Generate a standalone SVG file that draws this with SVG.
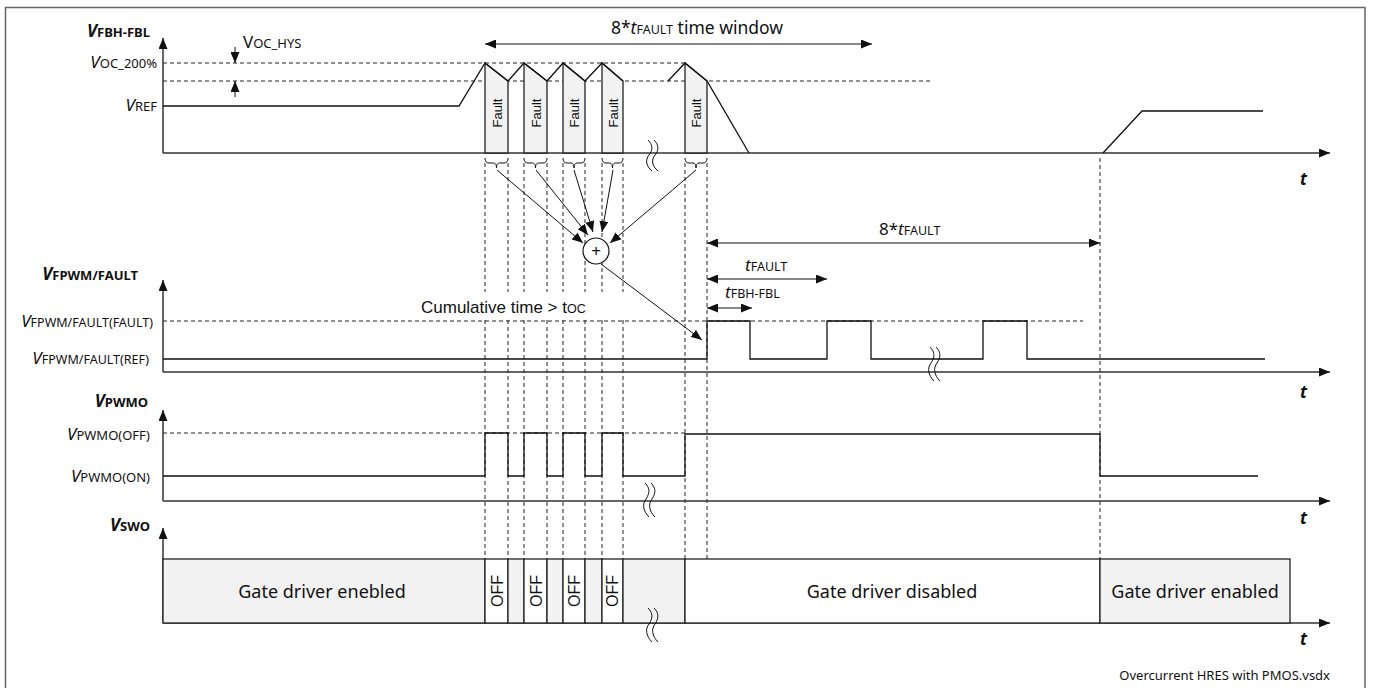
<svg xmlns="http://www.w3.org/2000/svg" width="1373" height="688" viewBox="0 0 1373 688">
<style>
text{font-family:"Noto Sans","Liberation Sans",sans-serif;fill:#111}
.lab{font-size:13px}
.V{font-size:17px;font-style:italic}
.b{font-weight:bold}
.ax{stroke:#333;stroke-width:1.5;fill:none}
.sig{stroke:#111;stroke-width:1.3;fill:none}
.dash{stroke:#222;stroke-width:1;fill:none;stroke-dasharray:4 3}
.thin{stroke:#111;stroke-width:1;fill:none}
.gray{fill:#f2f2f2;stroke:#222;stroke-width:1.3}
.white{fill:#fff;stroke:#222;stroke-width:1.3}
.arial{font-family:"Liberation Sans",Arial,sans-serif}
.sq{stroke:#111;stroke-width:1;fill:none}
</style>
<defs>
<marker id="ah" markerUnits="userSpaceOnUse" markerWidth="11" markerHeight="9" refX="11" refY="4.5" orient="auto-start-reverse"><path d="M0,0 L11,4.5 L0,9 z" fill="#111"/></marker>
</defs>
<rect x="5.5" y="7.5" width="1359.5" height="690" fill="none" stroke="#666" stroke-width="1.5"/>

<g id="connectors">
<path class="ax" d="M163,153 V38" marker-end="url(#ah)"/>
<path class="ax" d="M163,153 H1330" marker-end="url(#ah)"/>
<path class="ax" d="M163,372 V280" marker-end="url(#ah)"/>
<path class="ax" d="M163,372 H1330" marker-end="url(#ah)"/>
<path class="ax" d="M163,501 V410" marker-end="url(#ah)"/>
<path class="ax" d="M163,501 H1330" marker-end="url(#ah)"/>
<path class="ax" d="M163,623 V528" marker-end="url(#ah)"/>
<path class="ax" d="M163,623 H1330" marker-end="url(#ah)"/>
<path class="dash" d="M163,63 H685 M163,81 H932 M163,321 H1083 M163,433 H685"/>
<path class="dash" d="M485,163 V292 M485,320 V559 M508,163 V292 M508,320 V559 M524,163 V292 M524,320 V559 M547,163 V292 M547,320 V559 M563,163 V292 M563,320 V559 M585,163 V292 M585,320 V559 M602,163 V292 M602,320 V559 M623,163 V292 M623,320 V559 M685,163 V559 M707,163 V559 M1100,158 V559"/>
<path class="thin" d="M485,44 H872" marker-start="url(#ah)" marker-end="url(#ah)"/>
<path class="thin" d="M235,47 V63" marker-end="url(#ah)"/>
<path class="thin" d="M235,97 V81" marker-end="url(#ah)"/>
<path class="thin" d="M707,243 H1100" marker-start="url(#ah)" marker-end="url(#ah)"/>
<path class="thin" d="M707,279 H827" marker-start="url(#ah)" marker-end="url(#ah)"/>
<path class="thin" d="M707,308 H752" marker-start="url(#ah)" marker-end="url(#ah)"/>
<path class="thin" d="M497,170 L583,243" marker-end="url(#ah)"/>
<path class="thin" d="M536,170 L588,235" marker-end="url(#ah)"/>
<path class="thin" d="M574,170 L593,232" marker-end="url(#ah)"/>
<path class="thin" d="M613,170 L602,232" marker-end="url(#ah)"/>
<path class="thin" d="M696,170 L610,243" marker-end="url(#ah)"/>
<path class="thin" d="M601,264 L702,340" marker-end="url(#ah)"/>
<path class="thin" d="M485,158 q0,5 4,5 h4.5 q3,0 3,5 q0,-5 3,-5 h4.5 q4,0 4,-5"/>
<path class="thin" d="M524,158 q0,5 4,5 h4.5 q3,0 3,5 q0,-5 3,-5 h4.5 q4,0 4,-5"/>
<path class="thin" d="M563,158 q0,5 4,5 h4 q3,0 3,5 q0,-5 3,-5 h4 q4,0 4,-5"/>
<path class="thin" d="M602,158 q0,5 4,5 h3.5 q3,0 3,5 q0,-5 3,-5 h3.5 q4,0 4,-5"/>
<path class="thin" d="M685,158 q0,5 4,5 h4 q3,0 3,5 q0,-5 3,-5 h4 q4,0 4,-5"/>
</g>

<g id="signal-fbh-fbl">
<polygon class="gray" points="485,63 508,81 508,153 485,153"/>
<polygon class="gray" points="524,63 547,81 547,153 524,153"/>
<polygon class="gray" points="563,63 585,81 585,153 563,153"/>
<polygon class="gray" points="602,63 623,81 623,153 602,153"/>
<polygon class="gray" points="685,63 707,81 707,153 685,153"/>
<path class="sig" d="M163,106 H459 L485,63 L508,81 L524,63 L547,81 L563,63 L585,81 L602,63 L623,81 M668,81 L685,63 L707,81 L749,153 M1103,153 L1142,111 H1263"/>
<g font-size="13">
<text transform="translate(501.5,113) rotate(-90)" text-anchor="middle" class="arial">Fault</text>
<text transform="translate(540.5,113) rotate(-90)" text-anchor="middle" class="arial">Fault</text>
<text transform="translate(578.5,113) rotate(-90)" text-anchor="middle" class="arial">Fault</text>
<text transform="translate(617.5,113) rotate(-90)" text-anchor="middle" class="arial">Fault</text>
<text transform="translate(700.5,113) rotate(-90)" text-anchor="middle" class="arial">Fault</text>
</g>
<path class="sq" d="M648,140 c5,5 5,10 1,15 c-4,5 -3,11 3,16 M654,140 c5,5 5,10 1,15 c-4,5 -3,11 3,16"/>
</g>

<g id="sum-node">
<circle cx="596" cy="251" r="13" fill="#fff" stroke="#111" stroke-width="1.2"/>
<text x="596" y="257" font-size="17" text-anchor="middle">+</text>
</g>

<g id="signal-fpwm">
<path class="sig" d="M163,359 H707 V321 H750 V359 H827 V321 H871 V359 H983 V321 H1027 V359 H1265"/>
<path class="sq" d="M930,347 c5,5 5,10 1,16 c-4,5 -3,12 3,18 M936,347 c5,5 5,10 1,16 c-4,5 -3,12 3,18"/>
</g>

<g id="signal-pwmo">
<path class="sig" d="M163,476 H485 V433 H508 V476 H524 V433 H547 V476 H563 V433 H585 V476 H602 V433 H623 V476 H685 V434 H1100 V476 H1258"/>
<path class="sq" d="M645,483 c5,5 5,10 1,16 c-4,5 -3,12 3,18 M651,483 c5,5 5,10 1,16 c-4,5 -3,12 3,18"/>
</g>

<g id="signal-swo">
<rect class="gray" x="163" y="559" width="322" height="64"/>
<rect class="white" x="485" y="559" width="23" height="64"/>
<rect class="gray" x="508" y="559" width="16" height="64"/>
<rect class="white" x="524" y="559" width="23" height="64"/>
<rect class="gray" x="547" y="559" width="16" height="64"/>
<rect class="white" x="563" y="559" width="22" height="64"/>
<rect class="gray" x="585" y="559" width="17" height="64"/>
<rect class="white" x="602" y="559" width="21" height="64"/>
<rect class="gray" x="623" y="559" width="62" height="64"/>
<rect class="white" x="685" y="559" width="415" height="64"/>
<rect class="gray" x="1100" y="559" width="190" height="64"/>
<text x="322" y="598" font-size="18" text-anchor="middle">Gate driver enebled</text>
<text x="892" y="598" font-size="18" text-anchor="middle">Gate driver disabled</text>
<text x="1195" y="598" font-size="18" text-anchor="middle">Gate driver enabled</text>
<text transform="translate(502.5,591) rotate(-90)" text-anchor="middle" font-size="16" class="arial">OFF</text>
<text transform="translate(541.5,591) rotate(-90)" text-anchor="middle" font-size="16" class="arial">OFF</text>
<text transform="translate(579.5,591) rotate(-90)" text-anchor="middle" font-size="16" class="arial">OFF</text>
<text transform="translate(618,591) rotate(-90)" text-anchor="middle" font-size="16" class="arial">OFF</text>
<path class="sq" d="M648,608 c5,5 5,10 1,16 c-4,5 -3,12 3,18 M654,608 c5,5 5,10 1,16 c-4,5 -3,12 3,18"/>
</g>

<g id="labels">
<text x="150" y="37" text-anchor="end" class="b"><tspan class="V">V</tspan><tspan font-size="13">FBH-FBL</tspan></text>
<text x="157" y="68" text-anchor="end"><tspan class="V">V</tspan><tspan class="lab">OC_200%</tspan></text>
<text x="157" y="111" text-anchor="end"><tspan class="V">V</tspan><tspan class="lab">REF</tspan></text>
<text x="243" y="48"><tspan font-size="17">V</tspan><tspan class="lab">OC_HYS</tspan></text>
<text x="697" y="34" text-anchor="middle" font-size="17.5">8*<tspan font-style="italic">t</tspan><tspan font-size="12.5">FAULT</tspan> time window</text>
<text x="138" y="280" text-anchor="end" class="b"><tspan class="V">V</tspan><tspan font-size="13">FPWM/FAULT</tspan></text>
<text x="153" y="327" text-anchor="end"><tspan class="V">V</tspan><tspan font-size="12.5">FPWM/FAULT(FAULT)</tspan></text>
<text x="149" y="364" text-anchor="end"><tspan class="V">V</tspan><tspan font-size="12.5">FPWM/FAULT(REF)</tspan></text>
<text x="421" y="313" class="arial" font-size="17">Cumulative time &gt; t<tspan font-size="12.5">OC</tspan></text>
<text x="879" y="235" font-size="17">8*<tspan font-style="italic">t</tspan><tspan font-size="12.5">FAULT</tspan></text>
<text x="745" y="271" font-size="17"><tspan font-style="italic">t</tspan><tspan font-size="12.5">FAULT</tspan></text>
<text x="725" y="298" font-size="17"><tspan font-style="italic">t</tspan><tspan font-size="12.5">FBH-FBL</tspan></text>
<text x="148" y="407" text-anchor="end" class="b"><tspan class="V">V</tspan><tspan font-size="13">PWMO</tspan></text>
<text x="150" y="440" text-anchor="end"><tspan class="V">V</tspan><tspan class="lab">PWMO(OFF)</tspan></text>
<text x="150" y="482" text-anchor="end"><tspan class="V">V</tspan><tspan class="lab">PWMO(ON)</tspan></text>
<text x="150" y="531" text-anchor="end" class="b"><tspan class="V">V</tspan><tspan font-size="13">SWO</tspan></text>
<text x="1300" y="185" font-size="17" font-weight="bold" font-style="italic">t</text>
<text x="1300" y="398" font-size="17" font-weight="bold" font-style="italic">t</text>
<text x="1300" y="524" font-size="17" font-weight="bold" font-style="italic">t</text>
<text x="1300" y="645" font-size="17" font-weight="bold" font-style="italic">t</text>
<text x="1330" y="680" font-size="13" text-anchor="end">Overcurrent HRES with PMOS.vsdx</text>
</g>
</svg>
